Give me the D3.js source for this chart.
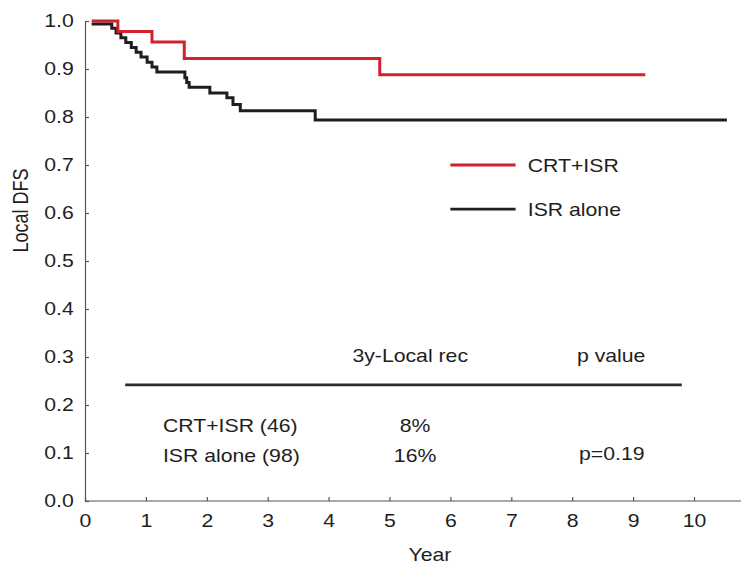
<!DOCTYPE html>
<html lang="en">
<head>
<meta charset="utf-8">
<title>Local DFS</title>
<script src="https://d3js.org/d3.v7.min.js"></script>
<style>
  body { margin: 0; background: #fff; }
  text { font-family: "Liberation Sans", Arial, sans-serif; fill: #1e1e1e; }
</style>
</head>
<body>
<div id="chart"></div>
<script>

// tick labels
var xTicks = [0, 1, 2, 3, 4, 5, 6, 7, 8, 9, 10];
var yTicks = [0.0, 0.1, 0.2, 0.3, 0.4, 0.5, 0.6, 0.7, 0.8, 0.9, 1.0];

// Kaplan-Meier steps (years, local DFS)
var crtTimes = [0.11, 0.54, 1.10, 1.63, 4.84, 9.20];
var crtSurv  = [1.000, 0.978, 0.956, 0.922, 0.888, 0.888];

var isrTimes = [0.11, 0.44, 0.51, 0.59, 0.67, 0.76, 0.84, 0.92, 1.02, 1.10, 1.18,
                1.64, 1.67, 1.71, 2.05, 2.33, 2.43, 2.55, 3.78, 10.54];
var isrSurv  = [0.994, 0.985, 0.975, 0.965, 0.955, 0.945, 0.935, 0.925, 0.914, 0.904, 0.894,
                0.882, 0.872, 0.862, 0.850, 0.840, 0.826, 0.813, 0.794, 0.794];

// legend + summary table
var groups   = ["CRT+ISR", "ISR alone"];
var groupN   = [46, 98];
var localRec = ["8%", "16%"];
var pText    = "p=0.19";

var width = 741, height = 565;
var stretch = 1.18;   // the scan is a bit wider than tall
var red = "#d0212d", black = "#1e1e1e";

var x = d3.scaleLinear().domain([0, 10]).range([85, 694]);
var y = d3.scaleLinear().domain([0, 1]).range([501, 21]);

var svg = d3.select("#chart").append("svg")
  .attr("width", width)
  .attr("height", height);

function label(tx, ty, str, anchor, size) {
  return svg.append("text")
    .attr("transform", "translate(" + tx + "," + ty + ") scale(" + stretch + ",1)")
    .attr("text-anchor", anchor)
    .style("font-size", size + "px")
    .text(str);
}

// axes
var xAxis = svg.append("g")
  .attr("transform", "translate(0," + y(0) + ")")
  .call(d3.axisBottom(x).tickValues(xTicks).tickSize(-4).tickSizeOuter(0).tickPadding(13));

var yAxis = svg.append("g")
  .attr("transform", "translate(" + x(0) + ",0)")
  .call(d3.axisLeft(y).tickValues(yTicks).tickFormat(d3.format(".1f"))
    .tickSize(-4).tickSizeOuter(0).tickPadding(9.5));

xAxis.select(".domain").remove();
xAxis.append("line")
  .attr("x1", x(0)).attr("x2", width)
  .attr("stroke", "#555").attr("stroke-width", 1.2);
yAxis.select(".domain").attr("stroke", "#555").attr("stroke-width", 1.2);

[xAxis, yAxis].forEach(function(a) {
  a.selectAll(".tick line").attr("stroke", "#555").attr("stroke-width", 1.2);
  a.selectAll("text")
    .attr("transform", "scale(" + stretch + ",1)")
    .attr("fill", "#1e1e1e")
    .style("font-size", "18px")
    .style("font-family", '"Liberation Sans", Arial, sans-serif');
});

// axis titles
label((x(0) + width) / 2 + 17, 561, "Year", "middle", 18);
svg.append("text")
  .attr("transform", "translate(28," + y(0.605) + ") rotate(-90) scale(1," + stretch + ")")
  .attr("text-anchor", "middle")
  .style("font-size", "18px")
  .text("Local DFS");

// curves
var km = d3.line()
  .x(function(d) { return x(d[0]); })
  .y(function(d) { return y(d[1]); })
  .curve(d3.curveStepAfter);

svg.append("path")
  .datum(d3.zip(isrTimes, isrSurv))
  .attr("d", km)
  .attr("fill", "none")
  .attr("stroke", black)
  .attr("stroke-width", 3);

svg.append("path")
  .datum(d3.zip(crtTimes, crtSurv))
  .attr("d", km)
  .attr("fill", "none")
  .attr("stroke", red)
  .attr("stroke-width", 3);

// legend
var legendY = [0.70, 0.608];
[red, black].forEach(function(c, i) {
  svg.append("line")
    .attr("x1", x(6.0)).attr("x2", x(7.07))
    .attr("y1", y(legendY[i])).attr("y2", y(legendY[i]))
    .attr("stroke", c).attr("stroke-width", i === 0 ? 3.2 : 2.6);
  label(x(7.27), y(legendY[i]) + 7, groups[i], "start", 18);
});

// summary table
label(x(5.34), y(0.29), "3y-Local rec", "middle", 18);
label(x(8.64), y(0.29), "p value", "middle", 18);

svg.append("line")
  .attr("x1", x(0.66)).attr("x2", x(9.80))
  .attr("y1", y(0.242)).attr("y2", y(0.242))
  .attr("stroke", "#2a2a2a").attr("stroke-width", 2.8);

var rowY = [0.144, 0.081];
groups.forEach(function(g, i) {
  label(x(1.28), y(rowY[i]), g + " (" + groupN[i] + ")", "start", 18);
  label(x(5.42), y(rowY[i]), localRec[i], "middle", 18);
});
label(x(8.65), y(0.085), pText, "middle", 18);

</script>
</body>
</html>
